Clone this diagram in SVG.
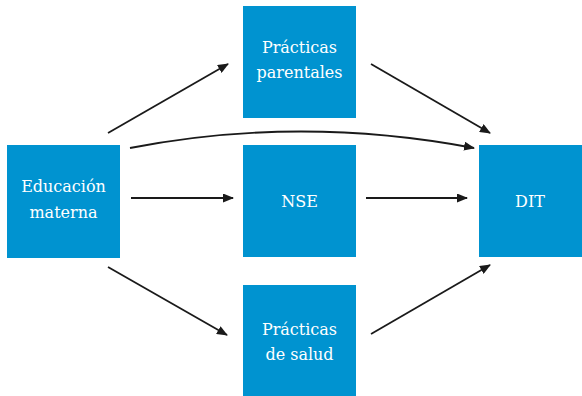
<svg xmlns="http://www.w3.org/2000/svg" width="582" height="396" viewBox="0 0 582 396">
<style>
.box{fill:#0093D0}
.lbl{font-family:"DejaVu Serif",serif;font-size:16px;fill:#fff;text-anchor:middle}
.c{stroke:#1a1a1a;stroke-width:1.8;fill:none;marker-end:url(#ah)}
</style>
<defs>
<marker id="ah" viewBox="0 0 11 9" refX="10" refY="4.5" markerWidth="11" markerHeight="9" markerUnits="userSpaceOnUse" orient="auto">
<path d="M0,0 L11,4.5 L0,9 Z" fill="#1a1a1a"/>
</marker>
</defs>
<rect width="582" height="396" fill="#fff"/>
<g id="edu"><rect class="box" x="7" y="145" width="113" height="113"/><text class="lbl" x="63.5" y="192">Educación</text><text class="lbl" x="63.5" y="218">materna</text></g>
<g id="pp"><rect class="box" x="243" y="6" width="113" height="112"/><text class="lbl" x="299.5" y="53">Prácticas</text><text class="lbl" x="299.5" y="78">parentales</text></g>
<g id="nse"><rect class="box" x="243" y="145" width="113" height="112"/><text class="lbl" x="299.5" y="207">NSE</text></g>
<g id="ps"><rect class="box" x="243" y="285" width="113" height="111"/><text class="lbl" x="299.5" y="335">Prácticas</text><text class="lbl" x="299.5" y="360">de salud</text></g>
<g id="dit"><rect class="box" x="479" y="145" width="103" height="112"/><text class="lbl" x="530" y="207">DIT</text></g>
<g id="connectors">
<path class="c" d="M108,133 L228,64"/>
<path class="c" d="M130,148 Q300,115 474,148"/>
<path class="c" d="M131,198 L233,198"/>
<path class="c" d="M108,267 L227,335"/>
<path class="c" d="M371,64 L490,133"/>
<path class="c" d="M366,198 L467,198"/>
<path class="c" d="M371,334 L490,265"/>
</g>
</svg>
